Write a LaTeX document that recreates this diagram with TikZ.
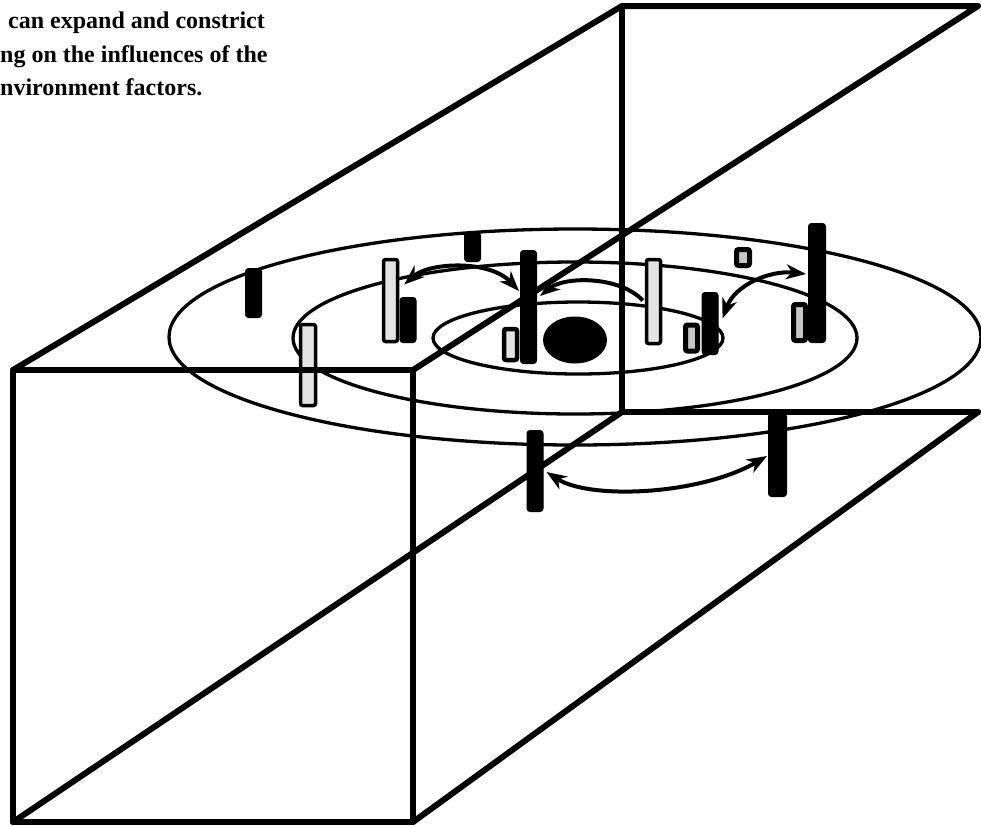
\documentclass[tikz,border=0pt]{standalone}
\usepackage{fontspec}
\setmainfont{Liberation Serif}
\usetikzlibrary{arrows.meta,calc}
\begin{document}
\begin{tikzpicture}[x=1pt,y=-1pt,
  boxline/.style={line width=6pt, line join=round, line cap=round},
  ring/.style={line width=3.3pt},
  darkpillar/.style={draw=black, fill=black, rounded corners=3pt, line width=1pt, inner sep=0pt, minimum width=16pt},
  lightpillar/.style={draw=black, fill=gray!22, rounded corners=2pt, line width=3.5pt, inner sep=0pt, minimum width=14pt},
  lightbox/.style={draw=black, fill=gray!22, rounded corners=2pt, line width=4.5pt, inner sep=0pt, minimum width=13pt},
  hatchbox/.style={draw=black, fill=gray!45, rounded corners=2pt, line width=5pt, inner sep=0pt, minimum width=12pt},
  tipA/.tip={Stealth[length=20pt,width=15pt,inset=6pt]},
  move/.style={line width=4pt, tipA-tipA},
  moveleft/.style={line width=4pt, tipA-},
  caption/.style={font=\bfseries\fontsize{24}{33}\selectfont, anchor=base west, inner sep=0pt}
]
\useasboundingbox (0,0) rectangle (981,825);
\clip (0,0) rectangle (981,825);

% rings
\draw[ring] (575,337) ellipse [x radius=406pt, y radius=108pt];
\draw[ring] (575,338) ellipse [x radius=282pt, y radius=76pt];
\draw[ring] (578,338) ellipse [x radius=145pt, y radius=36pt];

% centre disk
\fill (575,340) ellipse [x radius=32pt, y radius=23.5pt];

% pillars
\node[darkpillar, minimum height=49pt] (p1) at (253.5,293) {};
\node[darkpillar, minimum height=29pt] (p2) at (472.5,247) {};
\node[darkpillar, minimum height=45pt] (p4) at (408,320) {};
\node[lightpillar, minimum height=82pt] (p3) at (390.5,300.5) {};
\node[lightpillar, minimum height=81pt, minimum width=15pt] (p5) at (308,365) {};
\node[darkpillar, minimum height=113pt] (p6) at (528.5,307) {};
\node[lightbox, minimum height=31pt] (p7) at (510.5,344.5) {};
\node[lightpillar, minimum height=84pt] (p8) at (653.5,301.5) {};
\node[darkpillar, minimum height=62pt] (p10) at (710,323.5) {};
\node[hatchbox, minimum height=26pt] (p9) at (691.5,338) {};
\node[hatchbox, minimum height=16pt, minimum width=13pt] (p11) at (743,257.5) {};
\node[darkpillar, minimum height=119pt, minimum width=17pt] (p12) at (817,283) {};
\node[hatchbox, minimum height=36pt] (p13) at (799.5,322.5) {};
\node[darkpillar, minimum height=81pt] (p14) at (535,471) {};
\node[darkpillar, minimum height=83pt, minimum width=18pt] (p15) at (777.5,455) {};

% movements
\draw[move] ($(p3.east)+(5,-16)$) .. controls (430,262) and (490,260) .. ($(p6.west)+(-1,-16)$);
\draw[moveleft] ($(p6.east)+(3,-11)$) .. controls (565,276) and (620,276) .. ($(p8.west)+(-2,-1)$);
\draw[move] ($(p10.east)+(4,-5)$) .. controls (735,285) and (770,270) .. ($(p12.west)+(-2,-9)$);
\draw[move] ($(p14.east)+(3,1)$) .. controls (590,500) and (700,495) .. ($(p15.west)+(-1,1)$);

% box
\coordinate (A) at (13,822);
\coordinate (B) at (413,822);
\coordinate (C) at (413,370);
\coordinate (D) at (13,370);
\coordinate (E) at (622,6);
\coordinate (F) at (978,6);
\coordinate (G) at (622,412);
\coordinate (H) at (978,412);
\draw[boxline] (A) -- (B) -- (C) -- (D) -- cycle;
\draw[boxline] (D) -- (E) -- (F) -- (C);
\draw[boxline] (E) -- (G) -- (H);
\draw[boxline] (A) -- (G);
\draw[boxline] (B) -- (H);

% caption
\node[caption] (t1) at (8,28) {can expand and constrict};
\node[caption] (t2) at (0,62) {ng on the influences of the};
\node[caption] (t3) at (0,95) {nvironment factors.};
\end{tikzpicture}
\end{document}
